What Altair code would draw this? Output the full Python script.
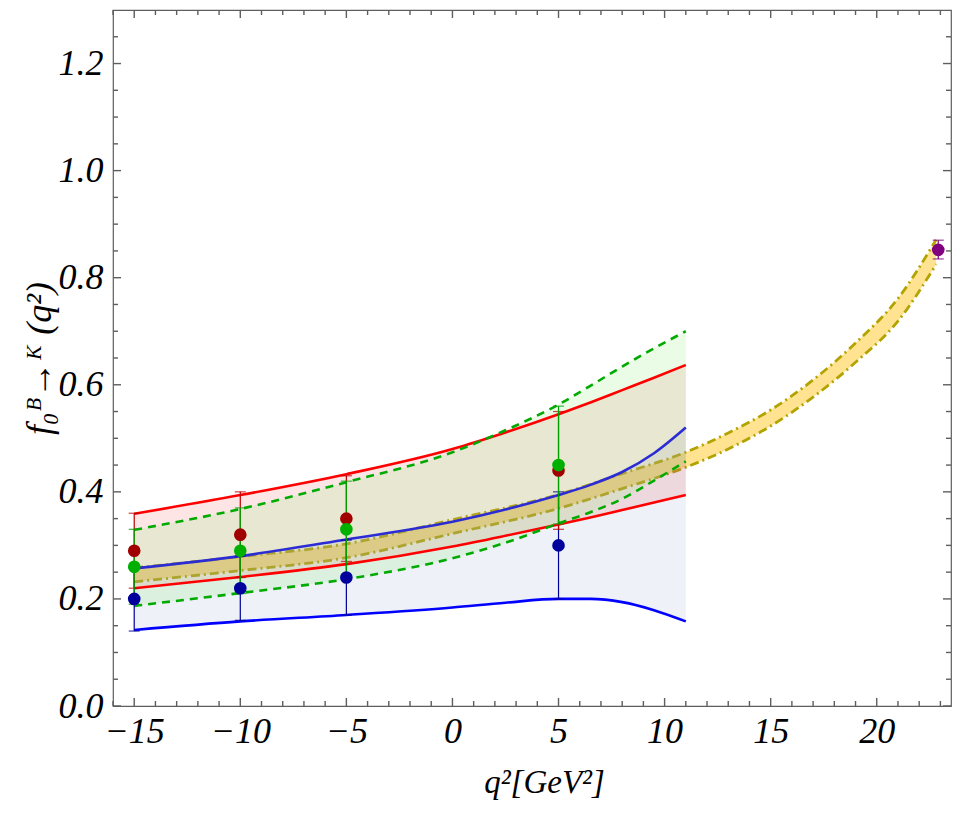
import altair as alt
import pandas as pd

# ---------------- data ----------------
q_curve = [-15, -10, -5, 0, 2.5, 5, 6.5, 8, 9.5, 11]
red_up = [0.359, 0.394, 0.433, 0.480, 0.511, 0.545, 0.567, 0.590, 0.613, 0.637]
red_lo = [0.220, 0.241, 0.265, 0.298, 0.318, 0.339, 0.352, 0.366, 0.380, 0.394]
green_up = [0.329, 0.368, 0.418, 0.474, 0.515, 0.563, 0.598, 0.634, 0.668, 0.700]
green_lo = [0.187, 0.211, 0.237, 0.276, 0.305, 0.341, 0.362, 0.387, 0.421, 0.457]
blue_up = [0.257, 0.280, 0.311, 0.344, 0.367, 0.394, 0.413, 0.437, 0.472, 0.520]
blue_lo = [0.142, 0.158, 0.170, 0.184, 0.193, 0.200, 0.200, 0.194, 0.179, 0.158]

q_band = [-15, -10, -5, 0, 5, 8, 11, 13, 15, 17, 19, 21, 22.8]
band_hi = [0.258, 0.279, 0.303, 0.348, 0.395, 0.434, 0.474, 0.510, 0.553, 0.609, 0.678, 0.761, 0.871]
band_lo = [0.232, 0.253, 0.277, 0.322, 0.369, 0.406, 0.446, 0.480, 0.523, 0.577, 0.642, 0.719, 0.825]

q_pts = [-15, -10, -5, 5]
red_val = [0.29, 0.32, 0.35, 0.44]
red_err_lo = [0.22, 0.24, 0.27, 0.33]
red_err_hi = [0.36, 0.40, 0.43, 0.55]
green_val = [0.26, 0.29, 0.33, 0.45]
green_err_lo = [0.19, 0.21, 0.24, 0.34]
green_err_hi = [0.33, 0.37, 0.42, 0.56]
blue_val = [0.20, 0.22, 0.24, 0.30]
blue_err_lo = [0.14, 0.16, 0.17, 0.20]
blue_err_hi = [0.26, 0.28, 0.31, 0.40]

q_lat = [22.9]
lat_val = [0.852]
lat_err_lo = [0.835]
lat_err_hi = [0.870]

x_major = [-15, -10, -5, 0, 5, 10, 15, 20]
x_minor = [-16, -14, -13, -12, -11, -9, -8, -7, -6, -4, -3, -2, -1, 1, 2, 3, 4,
           6, 7, 8, 9, 11, 12, 13, 14, 16, 17, 18, 19, 21, 22, 23]
y_major = [0.0, 0.2, 0.4, 0.6, 0.8, 1.0, 1.2]
y_minor = [0.05, 0.1, 0.15, 0.25, 0.3, 0.35, 0.45, 0.5, 0.55, 0.65, 0.7, 0.75,
           0.85, 0.9, 0.95, 1.05, 1.1, 1.15, 1.25]

# ---------------- layout / style ----------------
W, H = 838, 696
XDOM = [-16, 23.5]
YDOM = [0, 1.3]
FONT = "Liberation Serif, DejaVu Serif, serif"
FRAME = "#5e5e5e"
MAJ, MIN = 8, 5

xs = alt.Scale(domain=XDOM, nice=False, zero=False)
ys = alt.Scale(domain=YDOM, nice=False, zero=False)

curves = pd.DataFrame({"q": q_curve, "red_up": red_up, "red_lo": red_lo,
                       "green_up": green_up, "green_lo": green_lo,
                       "blue_up": blue_up, "blue_lo": blue_lo})
band = pd.DataFrame({"q": q_band, "hi": band_hi, "lo": band_lo})

ax_x_lab = alt.Axis(orient="bottom", values=x_major, format="d", ticks=False,
                    domain=False, grid=False, labelFont=FONT, labelFontSize=36,
                    labelFontStyle="italic", labelColor="black", labelPadding=8,
                    title="q²[GeV²]", titleFont=FONT, titleFontSize=33,
                    titleFontStyle="italic", titleFontWeight="normal",
                    titleColor="black", titlePadding=17, titleX=W / 2 + 12,
                    titleAlign="center")
ax_y_lab = alt.Axis(orient="left", values=y_major, format=".1f", ticks=False,
                    domain=False, grid=False, labelFont=FONT, labelFontSize=36,
                    labelFontStyle="italic", labelColor="black", labelPadding=10,
                    title="f₀ᴮ→ᴷ (q²)", titleFont=FONT, titleFontSize=36,
                    titleFontStyle="italic", titleFontWeight="normal",
                    titleColor="black", titlePadding=0)


def X(field="q", axis=None):
    return alt.X(f"{field}:Q", scale=xs, axis=axis)


def Y(field, axis=None):
    return alt.Y(f"{field}:Q", scale=ys, axis=axis)


layers = []

# yellow band (carries the label axes)
layers.append(alt.Chart(band).mark_area(color="#ffe391", opacity=1,
                                        interpolate="monotone").encode(
    x=X(axis=ax_x_lab), y=Y("lo", ax_y_lab), y2="hi"))
# band edges, dash-dot
for edge in ["hi", "lo"]:
    layers.append(alt.Chart(band).mark_line(color="#b3a300", strokeWidth=2.8,
                                            strokeDash=[9, 4, 2, 4],
                                            interpolate="monotone").encode(
        x=X(), y=Y(edge)))

# translucent fills
layers.append(alt.Chart(curves).mark_area(color="#8ea2ca", opacity=0.15,
                                          interpolate="monotone").encode(
    x=X(), y=Y("blue_lo"), y2="blue_up"))
layers.append(alt.Chart(curves).mark_area(color="#f00000", opacity=0.10,
                                          interpolate="monotone").encode(
    x=X(), y=Y("red_lo"), y2="red_up"))
layers.append(alt.Chart(curves).mark_area(color="#96f082", opacity=0.20,
                                          interpolate="monotone").encode(
    x=X(), y=Y("green_lo"), y2="green_up"))

# curves
for field, color, dash in [("blue_up", "#2c2cd4", None), ("blue_lo", "#0000ff", None),
                           ("red_up", "#ff0000", None), ("red_lo", "#ff0000", None),
                           ("green_up", "#00aa00", [8, 6]), ("green_lo", "#00aa00", [8, 6])]:
    kw = dict(color=color, strokeWidth=2.6, interpolate="monotone")
    if dash:
        kw["strokeDash"] = dash
    layers.append(alt.Chart(curves).mark_line(**kw).encode(x=X(), y=Y(field)))

# error bars
series = {
    "blue": (q_pts, blue_val, blue_err_lo, blue_err_hi, "#000099", "#00009c"),
    "red": (q_pts, red_val, red_err_lo, red_err_hi, "#bb0000", "#a00000"),
    "green": (q_pts, green_val, green_err_lo, green_err_hi, "#00a000", "#00b000"),
    "lat": (q_lat, lat_val, lat_err_lo, lat_err_hi, "#800080", "#800080"),
}
frames = {}
for name, (qq, v, lo, hi, bar_c, pt_c) in series.items():
    df = pd.DataFrame({"q": qq, "val": v, "lo": lo, "hi": hi})
    frames[name] = df
    layers.append(alt.Chart(df).mark_rule(color=bar_c, strokeWidth=1.2).encode(
        x=X(), y=Y("lo"), y2="hi"))
    for end in ["lo", "hi"]:
        layers.append(alt.Chart(df).mark_tick(color=bar_c, orient="horizontal",
                                              size=11, thickness=1.3).encode(
            x=X(), y=Y(end)))

# points
for name in ["red", "green", "blue", "lat"]:
    pt_c = series[name][5]
    layers.append(alt.Chart(frames[name]).mark_circle(color=pt_c, size=160,
                                                      opacity=1).encode(
        x=X(), y=Y("val")))

# inward frame ticks on all four sides (Mathematica frame style)
for vals, ln in [(x_major, MAJ), (x_minor, MIN)]:
    tdf = pd.DataFrame({"xt": vals})
    for edge, off in [(YDOM[0], -ln / 2), (YDOM[1], ln / 2)]:
        layers.append(alt.Chart(tdf).mark_tick(
            color=FRAME, orient="vertical", size=ln, thickness=1.4,
            opacity=1, yOffset=off).encode(
            x=X("xt"), y=alt.Y(datum=edge, scale=ys, axis=None)))
for vals, ln in [(y_major, MAJ), (y_minor, MIN)]:
    tdf = pd.DataFrame({"yt": vals})
    for edge, off in [(XDOM[0], ln / 2), (XDOM[1], -ln / 2)]:
        layers.append(alt.Chart(tdf).mark_tick(
            color=FRAME, orient="horizontal", size=ln, thickness=1.4,
            opacity=1, xOffset=off).encode(
            y=Y("yt"), x=alt.X(datum=edge, scale=xs, axis=None)))

chart = alt.layer(*layers).resolve_axis(x="independent", y="independent").properties(
    width=W, height=H, autosize="none",
    padding={"left": 105, "top": 2, "right": 1, "bottom": 101},
    background="white",
).configure_view(stroke=FRAME, strokeWidth=1.2)

chart.save("out.html", embed_options={"renderer": "svg", "actions": False})
